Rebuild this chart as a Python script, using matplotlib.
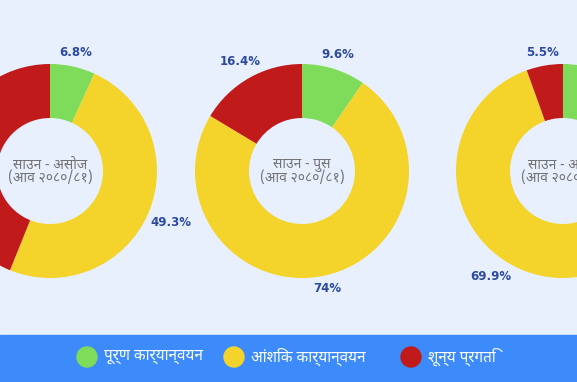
import matplotlib
matplotlib.use("Agg")
import numpy as np
import matplotlib.pyplot as plt
from matplotlib.patches import Rectangle, Circle

# ── data ────────────────────────────────────────────────────────────────
categories = ["पूर्ण कार्यान्वयन", "आंशिक कार्यान्वयन", "शून्य प्रगति"]
colors = ["#7fdb5a", "#f4d42a", "#c01a1a"]

period_titles = ["साउन - असोज", "साउन - पुस", "साउन - असार"]
fiscal_year = "(आव २०८०/८१)"

full_impl = [6.8, 9.6, 24.6]
partial_impl = [49.3, 74, 69.9]
no_progress = [43.9, 16.4, 5.5]
# which labels are visible in the cropped view
show_label = [[True, True, False], [True, True, True], [False, True, True]]

DEVA = ["Noto Sans Devanagari", "DejaVu Sans"]
BG = "#e8f0fe"
BAR = "#3d8bfa"
LABEL = "#2b4aa0"

W, H = 577, 382
centers_x = [50, 302, 563]
center_y = H - 171
R_OUT, R_IN = 107, 53

fig = plt.figure(figsize=(W / 100, H / 100), dpi=100, facecolor=BG)
ax = fig.add_axes([0, 0, 1, 1])
ax.set_facecolor(BG)

for i, cx in enumerate(centers_x):
    vals = [full_impl[i], partial_impl[i], no_progress[i]]
    wedges, _ = ax.pie(vals, colors=colors, startangle=90, counterclock=False,
                       radius=R_OUT, center=(cx, center_y),
                       wedgeprops=dict(width=R_OUT - R_IN, linewidth=0))
    # percentage labels just outside each wedge
    cum = np.cumsum([0] + vals)
    for j, v in enumerate(vals):
        if not show_label[i][j]:
            continue
        mid = (cum[j] + v / 2) / 100 * 2 * np.pi
        sx, sy = np.sin(mid), np.cos(mid)
        txt = f"{v:g}%"
        w = 7.3 * len(txt)
        r = R_OUT + 6 + 0.5 * (abs(sx) * w + abs(sy) * 10)
        ax.text(cx + r * sx, center_y + r * sy, txt, ha="center", va="center",
                fontsize=8.5, fontweight="bold", color=LABEL)
    ax.text(cx, center_y + 6, period_titles[i], ha="center", va="center",
            fontsize=10, color="#737373", family=DEVA, fontweight="medium")
    ax.text(cx, center_y - 7.5, fiscal_year, ha="center", va="center",
            fontsize=10, color="#737373", family=DEVA, fontweight="semibold")

# legend bar at the bottom
ax.add_patch(Rectangle((0, 0), W, 47, color=BAR, zorder=3))
legend_x = [87, 234, 411]
for x, c, name in zip(legend_x, colors, categories):
    ax.add_patch(Circle((x, 25), 10, color=c, zorder=4))
    ax.text(x + 17, 25, name, ha="left", va="center", fontsize=11,
            color="white", family=DEVA, fontweight="medium", zorder=5)

ax.set_xlim(0, W)
ax.set_ylim(0, H)
ax.set_aspect("auto")
ax.axis("off")

fig.savefig("out.png", dpi=100, facecolor=BG)
